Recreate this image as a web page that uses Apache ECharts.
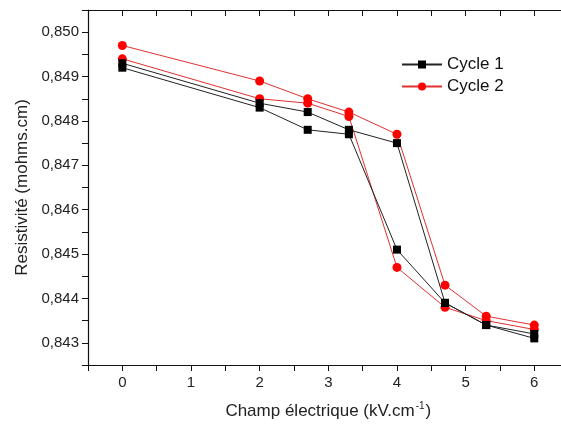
<!DOCTYPE html>
<html>
<head>
<meta charset="utf-8">
<script src="https://cdn.jsdelivr.net/npm/echarts@6/dist/echarts.min.js"></script>
<style>
html,body{margin:0;padding:0;background:#fff;}
#chart{width:561px;height:424px;}
</style>
</head>
<body>
<div id="chart"></div>
<script>
// Field values (kV/cm), each cycle goes up then back down
const fieldCycle1 = [0, 2, 2.7, 3.3, 4, 4.7, 5.3, 6, 6, 5.3, 4.7, 4, 3.3, 2.7, 2, 0];
const resCycle1 = [0.8492, 0.8483, 0.8478, 0.8477, 0.8451, 0.8439, 0.8434, 0.8431,
                   0.8432, 0.8434, 0.8439, 0.8475, 0.8478, 0.8482, 0.8484, 0.8493];
const fieldCycle2 = [0, 2, 2.7, 3.3, 4, 4.7, 5.3, 6, 6, 5.3, 4.7, 4, 3.3, 2.7, 2, 0];
const resCycle2 = [0.8494, 0.8485, 0.8484, 0.8481, 0.8447, 0.8438, 0.8435, 0.8433,
                   0.8434, 0.8436, 0.8443, 0.8477, 0.8482, 0.8485, 0.8489, 0.8497];
const seriesNames = ['Cycle 1', 'Cycle 2'];
const xTickLabels = ['0', '1', '2', '3', '4', '5', '6'];
const yTickLabels = ['0,843', '0,844', '0,845', '0,846', '0,847', '0,848', '0,849', '0,850'];

const pairs = (xs, ys) => xs.map((x, i) => [x, ys[i]]);
const font = 'Liberation Sans, Arial, sans-serif';
const axisColor = '#111';
const labelColor = '#222';

const chart = echarts.init(document.getElementById('chart'), null, {renderer: 'canvas'});

const isInt = v => Math.abs(v - Math.round(v)) < 1e-6;
const isMilli = v => Math.abs(v * 1000 - Math.round(v * 1000)) < 1e-6;

const baseX = {
  type: 'value', min: -0.5, max: 6.5, interval: 0.5,
  splitLine: {show: false},
  axisLine: {onZero: false, lineStyle: {color: axisColor, width: 1.2}}
};
const baseY = {
  type: 'value', min: 0.8425, max: 0.8505, interval: 0.0005,
  splitLine: {show: false},
  axisLine: {onZero: false, lineStyle: {color: axisColor, width: 1.2}}
};

chart.setOption({
  backgroundColor: '#fff',
  animation: false,
  textStyle: {fontFamily: font},
  grid: {left: 88, top: 10, width: 480.6, height: 355, containLabel: false, outerBoundsMode: 'none'},
  legend: {
    data: seriesNames,
    orient: 'vertical',
    left: 401, top: 56, padding: 0,
    itemWidth: 40, itemHeight: 10, itemGap: 5,
    textStyle: {fontFamily: font, fontSize: 17, color: '#111'}
  },
  xAxis: [
    Object.assign({}, baseX, {
      position: 'bottom',
      axisTick: {show: true, inside: false, length: 6, lineStyle: {color: axisColor}},
      axisLabel: {
        fontFamily: font, fontSize: 15, color: labelColor, margin: 10,
        formatter: v => isInt(v) && v >= 0 ? xTickLabels[Math.round(v)] : ''
      },
      name: '{a|Champ électrique (kV.cm}{s|-1}{a|)}',
      nameLocation: 'middle', nameGap: 36,
      nameTextStyle: {
        rich: {
          a: {fontFamily: font, fontSize: 17, color: labelColor, lineHeight: 20},
          s: {fontFamily: font, fontSize: 10, color: labelColor, verticalAlign: 'top', lineHeight: 20, padding: [0, 1, 7, 1]}
        }
      }
    }),
    Object.assign({}, baseX, {
      position: 'top',
      axisTick: {show: true, inside: true, length: 6, lineStyle: {color: axisColor}},
      axisLabel: {show: false}
    })
  ],
  yAxis: [
    Object.assign({}, baseY, {
      position: 'left',
      axisTick: {show: true, inside: false, length: 6, lineStyle: {color: axisColor}},
      axisLabel: {
        fontFamily: font, fontSize: 15, color: labelColor, margin: 9,
        formatter: v => isMilli(v) ? yTickLabels[Math.round(v * 1000) - 843] || '' : ''
      },
      name: 'Resistivité (mohms.cm)',
      nameLocation: 'middle', nameGap: 57,
      nameTextStyle: {fontFamily: font, fontSize: 17, color: labelColor}
    }),
    Object.assign({}, baseY, {
      position: 'right',
      axisTick: {show: true, inside: true, length: 6, lineStyle: {color: axisColor}},
      axisLabel: {show: false}
    })
  ],
  series: [
    {
      name: seriesNames[0], type: 'line',
      data: pairs(fieldCycle1, resCycle1),
      symbol: 'rect', symbolSize: 8,
      itemStyle: {color: '#000'},
      lineStyle: {color: '#222', width: 1},
      z: 3
    },
    {
      name: seriesNames[1], type: 'line',
      data: pairs(fieldCycle2, resCycle2),
      symbol: 'circle', symbolSize: 9,
      itemStyle: {color: '#ff0000'},
      lineStyle: {color: '#e03030', width: 1},
      z: 2
    }
  ]
});
</script>
</body>
</html>
